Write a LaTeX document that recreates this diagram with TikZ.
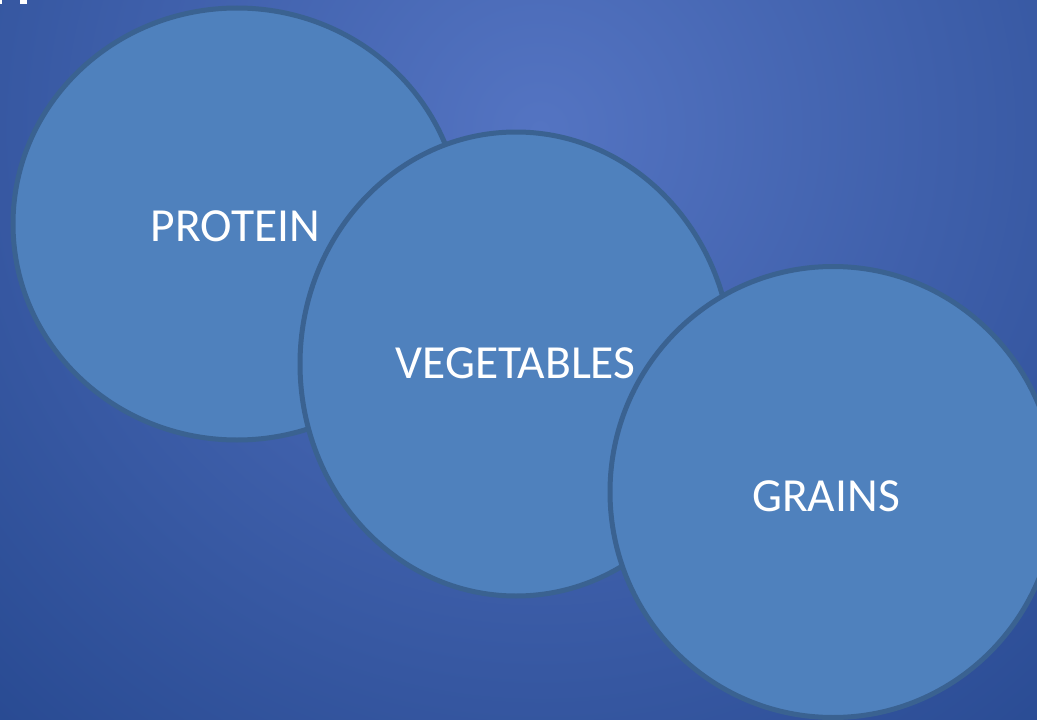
\documentclass[tikz,border=0pt]{standalone}
\usepackage{fontspec}
\setmainfont{Carlito}
\usetikzlibrary{shapes.geometric}

\definecolor{bgLight}{HTML}{5474C2}
\definecolor{bgDark}{HTML}{21438A}
\definecolor{plateFill}{HTML}{4F81BD}
\definecolor{plateRim}{HTML}{3A6291}

\begin{document}
\begin{tikzpicture}[x=1pt, y=-1pt,
	plate/.style={ellipse, draw=plateRim, line width=5pt, fill=plateFill, inner sep=0pt},
	group label/.style={anchor=base, text=white, font=\fontsize{47.5}{52}\selectfont}]
	\useasboundingbox (0,0) rectangle (1037,720);
	\clip (0,0) rectangle (1037,720);

	% Backdrop
	\fill[bgDark] (0,0) rectangle (1037,720);
	\shade[inner color=bgLight, outer color=bgDark] (540,130) circle (950);
	\fill[white] (0,0) rectangle (2,4);
	\fill[white] (20,0) rectangle (27,4);

	% Plates, back to front
	\node[plate, minimum width=448pt, minimum height=432pt] (protein) at (237,224) {};
	\node[plate, minimum width=432pt, minimum height=464pt] (vegetables) at (516,364) {};
	\node[plate, minimum width=446pt, minimum height=451pt] (grains) at (833,492) {};

	% Labels
	\node[group label] (proteinText) at (235.5,241) {PROTEIN};
	\node[group label] (vegetablesText) at (515.5,378) {VEGETABLES};
	\node[group label] (grainsText) at (826,511) {GRAINS};
\end{tikzpicture}
\end{document}
